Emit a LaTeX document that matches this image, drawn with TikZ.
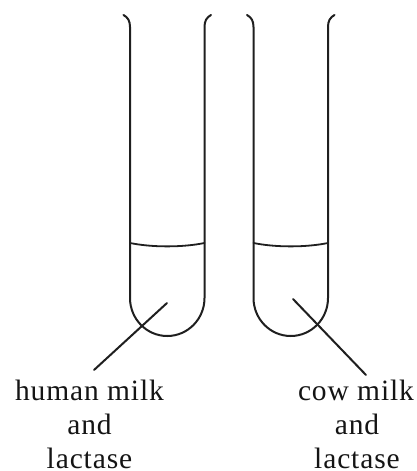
\documentclass[tikz,border=0pt]{standalone}
\usepackage{fontspec}
\setmainfont[LetterSpace=3]{Liberation Serif}
\tikzset{
  glass/.style={line width=2pt,color=black!88,line cap=round,line join=round},
  lbl/.style={inner sep=0pt,anchor=base,text=black!92,font=\fontsize{29.5}{30}\selectfont}
}
\newcommand{\tube}[2]{%
  \draw[glass] (#1-6.5,15) .. controls (#1-2,17.5) and (#1,21) .. (#1,27)
    -- (#1,298) arc[start angle=180,end angle=0,x radius=37.25,y radius=38] -- (#2,27)
    .. controls (#2,21) and (#2+2,17.5) .. (#2+6.5,15);
  \draw[glass,line width=1.8pt] (#1,243) .. controls (#1+22,247.5) and (#2-22,247.5) .. (#2,243);
}
\begin{document}
\begin{tikzpicture}[x=1pt,y=-1pt]
\useasboundingbox (0,0) rectangle (416,471);
\tube{130}{204.5}
\tube{253.5}{328}
\coordinate (a1) at (167,303);
\coordinate (a2) at (94,370);
\coordinate (b1) at (293,299);
\coordinate (b2) at (366,375);
\draw[glass] (a1) -- (a2);
\draw[glass] (b1) -- (b2);
\node[lbl] (h1) at (89.5,400) {human milk};
\node[lbl] (h2) at (89.5,434.5) {and};
\node[lbl] (h3) at (89.5,468) {lactase};
\node[lbl] (c1) at (356,400) {cow milk};
\node[lbl] (c2) at (357,434.5) {and};
\node[lbl] (c3) at (357,468) {lactase};
\end{tikzpicture}
\end{document}
